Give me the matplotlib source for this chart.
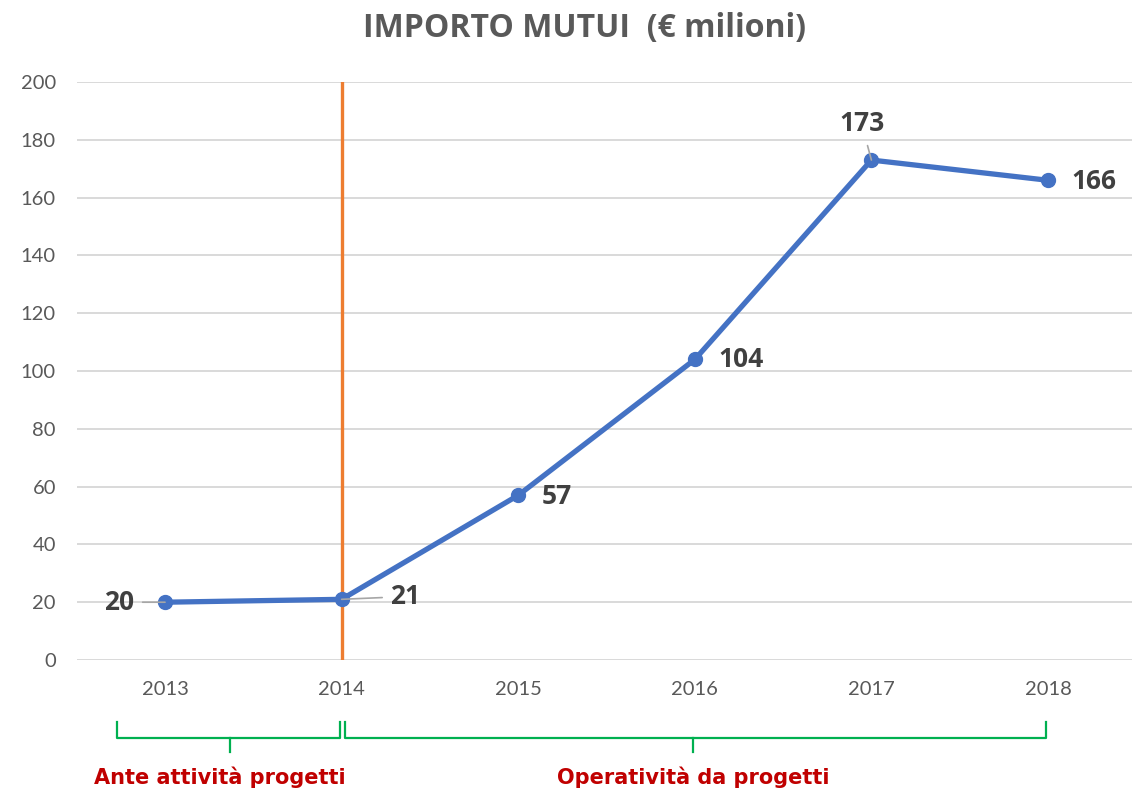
import matplotlib.pyplot as plt
from matplotlib.transforms import blended_transform_factory

years = ["2013", "2014", "2015", "2016", "2017", "2018"]
importo = [20, 21, 57, 104, 173, 166]
yticks = [0, 20, 40, 60, 80, 100, 120, 140, 160, 180, 200]

title = "IMPORTO MUTUI  (€ milioni)"
phase_labels = ["Ante attività progetti", "Operatività da progetti"]

plt.rcParams["font.family"] = ["Lato", "DejaVu Sans"]

fig = plt.figure(figsize=(11.32, 7.91), dpi=100)
ax = fig.add_axes((0.0678, 0.1656, 0.936, 0.7307))

x = list(range(len(years)))

ax.set_xlim(-0.5, len(years) - 0.5)
ax.set_ylim(0, 200)
ax.set_yticks(yticks)
ax.set_xticks(x)
ax.set_xticklabels(years)
ax.tick_params(length=0, labelsize=14.5, labelcolor="#595959")
ax.tick_params(axis="y", pad=15)
ax.tick_params(axis="x", pad=15)
for s in ax.spines.values():
    s.set_visible(False)
ax.grid(axis="y", color="#D9D9D9", linewidth=1.4)
ax.set_axisbelow(True)

# separator at 2014
ax.plot([1, 1], [0, 200], color="#ED7D31", linewidth=2.4, zorder=2)

ax.plot(x, importo, color="#4472C4", linewidth=3.8, marker="o",
        markersize=10, zorder=3, solid_capstyle="round")

# data labels (offsets in points)
offsets = {0: (-33, 0), 1: (46, 2), 2: (28, -1), 3: (33, 0), 4: (-7, 26), 5: (33, -1)}
leaders = {0, 1, 4}
for i, v in enumerate(importo):
    dx, dy = offsets[i]
    props = None
    if i in leaders:
        props = dict(arrowstyle="-", color="#A6A6A6", lw=1.2, shrinkA=4, shrinkB=0)
    ax.annotate(str(v), (x[i], v), xytext=(dx, dy), textcoords="offset points",
                ha="center", va="center", fontsize=19, fontweight="bold",
                family=["Open Sans", "DejaVu Sans"],
                color="#404040", arrowprops=props, zorder=4)

fig.text(0.516, 0.964, title, ha="center", va="center", fontsize=23,
         fontweight="bold", family=["Open Sans", "DejaVu Sans"], color="#595959")

# phase brackets below the axis
tr = blended_transform_factory(ax.transData, ax.transAxes)
green = "#00B050"
brackets = [(-0.27, 0.99, 0.37, 0.31), (1.02, 4.99, 2.99, 2.99)]
for (x0, x1, xm, xt), lab in zip(brackets, phase_labels):
    ax.plot([x0, x0, x1, x1], [-0.107, -0.135, -0.135, -0.107], color=green,
            linewidth=1.6, transform=tr, clip_on=False)
    ax.plot([xm, xm], [-0.135, -0.16], color=green, linewidth=1.6,
            transform=tr, clip_on=False)
    ax.text(xt, -0.203, lab, transform=tr, ha="center", va="center",
            fontsize=15, fontweight="bold", family=["DejaVu Sans"],
            color="#C00000")

fig.savefig("out.png", dpi=100)
